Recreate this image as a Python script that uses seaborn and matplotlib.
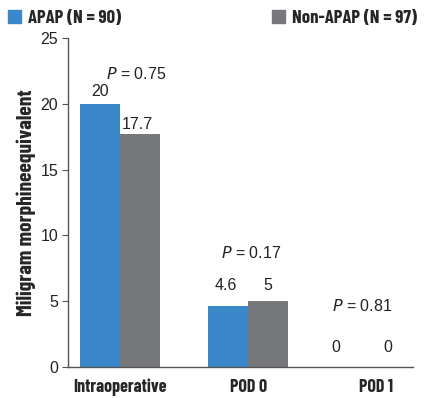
import matplotlib
matplotlib.use("Agg")
import matplotlib.pyplot as plt
import seaborn as sns
import pandas as pd
from matplotlib.patches import Patch

categories = ["Intraoperative", "POD 0", "POD 1"]
apap = [20, 4.6, 0]
non_apap = [17.7, 5, 0]
p_values = ["0.75", "0.17", "0.81"]
groups = ["APAP (N = 90)", "Non-APAP (N = 97)"]
colors = ["#3a87c9", "#77787b"]

# layout of annotations (category-unit x offsets, y in data units)
p_layout = [(0.12, 22.3), (0.02, 8.7), (-0.11, 4.6)]
val_layout = [[(0.0, 20.9), (-0.02, 18.4)],
              [(-0.02, 6.2), (0.0, 6.2)],
              [(-0.16, 1.5), (-0.06, 1.5)]]

BOLD = ["Barlow Condensed", "Roboto Condensed", "DejaVu Sans"]
REG = ["Liberation Sans", "DejaVu Sans"]

df = pd.DataFrame({
    "cat": categories * 2,
    "val": apap + non_apap,
    "grp": [groups[0]] * 3 + [groups[1]] * 3,
})

sns.set_style("white")
plt.rcParams["font.family"] = REG

fig = plt.figure(figsize=(4.25, 3.98), dpi=100)
ax = fig.add_axes([68 / 425, 1 - 367 / 398, (413 - 68) / 425, (367 - 38) / 398])
sns.barplot(data=df, x="cat", y="val", hue="grp", palette=colors, ax=ax,
            width=0.625, saturation=1, legend=False, linewidth=0)
ax.set_ylim(0, 25)
ax.set_xlim(-0.41, 2.29)
ax.set_yticks([0, 5, 10, 15, 20, 25])
for s in ["top", "right"]:
    ax.spines[s].set_visible(False)
for s in ["left", "bottom"]:
    ax.spines[s].set_color("#555555")
    ax.spines[s].set_linewidth(1)
ax.tick_params(axis="y", left=True, length=4, color="#555555", labelsize=11.5,
               labelcolor="#222222", pad=3)
ax.tick_params(axis="x", bottom=False, labelsize=13, pad=5)
for lab in ax.get_xticklabels():
    lab.set_fontweight("bold")
    lab.set_family(BOLD)
ax.set_xlabel("")
ax.set_ylabel("Miligram morphineequivalent", fontsize=15.5, fontweight="bold",
              family=BOLD, labelpad=3)

for i in range(len(categories)):
    for j, vals in enumerate([apap, non_apap]):
        dx, yv = val_layout[i][j]
        xpos = i + (j - 0.5) * 0.3125 + dx
        ax.text(xpos, yv, f"{vals[i]:g}", ha="center", va="center", fontsize=11.5,
                color="#222222")
    dx, yv = p_layout[i]
    ax.text(i + dx, yv, r"$\it{P}$" + f" = {p_values[i]}", ha="center",
            va="center", fontsize=11.5, color="#222222")

prop = {"weight": "bold", "size": 13.5, "family": BOLD}
fig.legend(handles=[Patch(color=colors[0], label=groups[0])], loc="upper left",
           bbox_to_anchor=(-0.005, 1.0), frameon=False, prop=prop, handlelength=0.7,
           handleheight=0.7, handletextpad=0.35, borderaxespad=0.15)
fig.legend(handles=[Patch(color=colors[1], label=groups[1])], loc="upper right",
           bbox_to_anchor=(1.005, 1.0), frameon=False, prop=prop, handlelength=0.7,
           handleheight=0.7, handletextpad=0.35, borderaxespad=0.15)

fig.savefig("out.png", dpi=100)
